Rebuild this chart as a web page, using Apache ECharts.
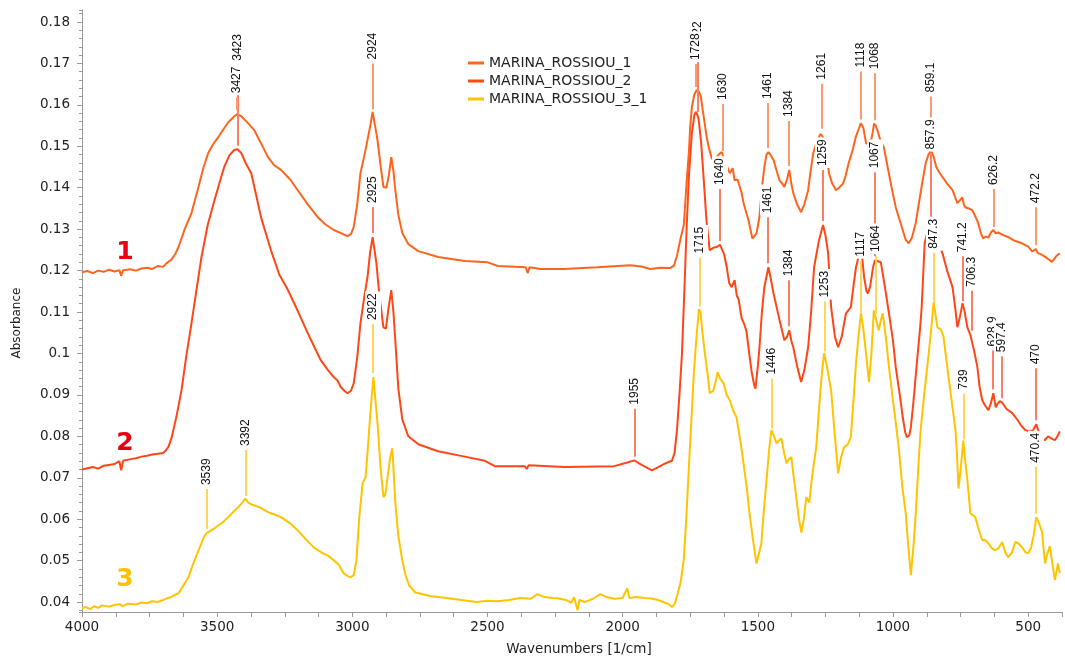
<!DOCTYPE html>
<html><head><meta charset="utf-8">
<script src="https://cdn.jsdelivr.net/npm/echarts@6/dist/echarts.min.js"></script>
<style>html,body{margin:0;padding:0;background:#fff}#c{width:1065px;height:660px}</style>
</head><body><div id="c"></div>
<script>
// ---------- data ----------
const seriesNames = ['MARINA_ROSSIOU_1', 'MARINA_ROSSIOU_2', 'MARINA_ROSSIOU_3_1'];

const wn1 = [4000,3980,3960,3940,3920,3900,3880,3862,3855,3848,3820,3800,3780,3760,3740,3720,3700,3687,3670,3655,3643,3620,3595,3570,3550,3533,3515,3496,3478,3459,3440,3426,3410,3395,3386,3363,3340,3312,3290,3264,3230,3202,3165,3128,3100,3069,3040,3018,3005,2995,2982,2970,2955,2944,2933,2925,2916,2907,2895,2885,2874,2865,2856,2848,2841,2830,2815,2793,2756,2683,2584,2499,2462,2359,2351,2345,2304,2216,2094,1972,1930,1899,1860,1825,1810,1799,1785,1774,1765,1755,1750,1744,1735,1726,1718,1711,1700,1690,1682,1670,1655,1645,1634,1620,1604,1593,1586,1575,1560,1553,1535,1520,1513,1505,1494,1485,1476,1468,1461,1452,1442,1430,1420,1410,1402,1392,1384,1376,1369,1355,1340,1328,1314,1305,1295,1280,1268,1261,1252,1245,1237,1225,1211,1200,1185,1175,1163,1150,1138,1128,1119,1110,1100,1090,1082,1075,1070,1064,1056,1045,1034,1020,1005,990,970,953,942,930,916,900,890,879,869,859,850,840,830,817,800,780,762,752,744,738,733,720,707,695,685,675,667,657,647,638,629,620,611,590,574,550,523,500,485,478,472,465,449,430,412,396,383];
const ab1 = [.1196,.1199,.1194,.1200,.1197,.1202,.1198,.1201,.1188,.1201,.1203,.1200,.1205,.1207,.1204,.1211,.1209,.1218,.1226,.1240,.1257,.1300,.1339,.1400,.1450,.1484,.1505,.1522,.1540,.1558,.1570,.1578,.1572,.1562,.1556,.1539,.1510,.1474,.1455,.1443,.1420,.1394,.1360,.1329,.1312,.1298,.1290,.1283,.1288,.1305,.1360,.1435,.1480,.1515,.1552,.1583,.1550,.1515,.1450,.1402,.1400,.1430,.1474,.1440,.1394,.1335,.1290,.1264,.1247,.1233,.1223,.1220,.1211,.1208,.1194,.1208,.1204,.1204,.1208,.1213,.1210,.1204,.1207,.1206,.1212,.1237,.1280,.1310,.1400,.1488,.1550,.1595,.1625,.1636,.1632,.1620,.1570,.1525,.1498,.1470,.1472,.1480,.1486,.1462,.1435,.1447,.1418,.1420,.1387,.1363,.1322,.1277,.1275,.1290,.1330,.1400,.1450,.1480,.1486,.1478,.1467,.1440,.1418,.1410,.1402,.1420,.1443,.1410,.1387,.1360,.1341,.1360,.1394,.1440,.1484,.1515,.1530,.1533,.1515,.1480,.1435,.1410,.1394,.1400,.1410,.1430,.1462,.1490,.1522,.1540,.1556,.1545,.1508,.1505,.1510,.1535,.1555,.1550,.1535,.1510,.1498,.1450,.1400,.1353,.1310,.1274,.1266,.1280,.1315,.1380,.1420,.1460,.1480,.1490,.1475,.1450,.1438,.1426,.1410,.1394,.1363,.1370,.1377,.1360,.1353,.1350,.1346,.1330,.1315,.1290,.1278,.1282,.1280,.1292,.1298,.1290,.1292,.1285,.1281,.1272,.1266,.1258,.1246,.1245,.1252,.1243,.1238,.1230,.1221,.1235,.1242];

const wn2 = [4000,3980,3960,3940,3920,3900,3880,3862,3855,3848,3820,3800,3780,3760,3740,3720,3700,3690,3680,3668,3650,3632,3615,3595,3575,3558,3535,3510,3490,3474,3455,3437,3425,3411,3395,3374,3355,3338,3320,3301,3270,3238,3200,3165,3140,3117,3090,3069,3055,3043,3030,3018,3005,2995,2982,2970,2955,2944,2935,2925,2918,2911,2900,2885,2876,2866,2856,2848,2841,2830,2815,2793,2756,2683,2584,2510,2473,2362,2355,2348,2216,2031,1983,1957,1940,1921,1892,1870,1848,1830,1818,1808,1799,1790,1781,1772,1763,1755,1744,1735,1729,1720,1710,1700,1690,1678,1665,1652,1640,1634,1625,1615,1606,1597,1586,1578,1571,1560,1550,1542,1530,1523,1514,1509,1500,1494,1485,1476,1461,1455,1442,1430,1420,1402,1392,1384,1376,1369,1355,1340,1328,1314,1303,1292,1275,1259,1250,1240,1229,1215,1203,1190,1174,1156,1145,1137,1125,1117,1107,1098,1093,1085,1074,1067,1060,1045,1030,1015,1000,990,975,964,955,949,940,934,925,912,900,894,883,870,860,848,830,817,800,780,770,762,752,743,735,725,714,707,698,688,680,670,660,647,638,629,620,614,605,597,580,559,540,525,511,495,482,476,470,463,452,440,426,412,401,392,383];
const ab2 = [.0720,.0723,.0726,.0722,.0729,.0731,.0733,.0740,.0718,.0741,.0745,.0747,.0751,.0753,.0756,.0758,.0760,.0766,.0775,.0798,.0850,.0911,.0990,.1073,.1160,.1233,.1310,.1370,.1415,.1450,.1478,.1491,.1493,.1484,.1460,.1435,.1380,.1329,.1290,.1249,.1190,.1153,.1100,.1049,.1015,.0984,.0960,.0943,.0935,.0919,.0910,.0904,.0910,.0928,.0990,.1073,.1140,.1184,.1240,.1281,.1250,.1218,.1140,.1063,.1060,.1110,.1153,.1100,.1030,.0916,.0840,.0800,.0781,.0764,.0751,.0741,.0728,.0728,.0721,.0730,.0726,.0728,.0737,.0742,.0735,.0728,.0718,.0725,.0733,.0738,.0741,.0760,.0817,.0900,.0996,.1150,.1310,.1430,.1532,.1575,.1583,.1570,.1510,.1418,.1320,.1249,.1255,.1257,.1262,.1261,.1240,.1208,.1170,.1160,.1177,.1140,.1130,.1085,.1070,.1053,.0990,.0956,.0925,.0915,.0970,.1015,.1100,.1160,.1208,.1190,.1145,.1110,.1081,.1032,.1040,.1056,.1030,.1015,.0970,.0931,.0960,.1015,.1100,.1208,.1270,.1310,.1285,.1242,.1112,.1040,.1015,.1040,.1097,.1112,.1170,.1208,.1240,.1250,.1184,.1150,.1145,.1160,.1208,.1225,.1222,.1220,.1160,.1097,.1030,.0967,.0900,.0846,.0810,.0798,.0802,.0822,.0880,.0976,.1060,.1112,.1266,.1300,.1310,.1290,.1260,.1242,.1200,.1160,.1110,.1063,.1090,.1121,.1100,.1063,.1045,.1049,.1000,.0967,.0920,.0887,.0875,.0863,.0880,.0904,.0870,.0878,.0885,.0882,.0866,.0856,.0840,.0825,.0815,.0812,.0815,.0822,.0829,.0815,.0800,.0790,.0800,.0794,.0791,.0800,.0812];

const wn3 = [4000,3985,3970,3955,3940,3925,3900,3880,3860,3850,3830,3800,3780,3760,3740,3720,3700,3685,3670,3655,3643,3625,3606,3590,3569,3550,3540,3525,3510,3480,3459,3440,3422,3405,3396,3385,3374,3340,3312,3290,3264,3230,3202,3170,3143,3110,3090,3069,3050,3032,3015,3006,2995,2985,2975,2962,2951,2944,2936,2928,2922,2915,2907,2895,2885,2878,2870,2860,2852,2846,2841,2830,2815,2804,2790,2767,2708,2650,2584,2540,2500,2462,2420,2380,2340,2315,2290,2260,2241,2210,2190,2180,2167,2160,2140,2110,2083,2060,2030,2000,1983,1975,1950,1920,1899,1870,1850,1830,1818,1808,1799,1785,1774,1765,1755,1745,1737,1727,1718,1712,1705,1696,1686,1678,1665,1655,1649,1640,1627,1615,1604,1590,1579,1565,1553,1540,1531,1518,1505,1495,1487,1478,1468,1458,1450,1440,1431,1422,1413,1403,1394,1385,1376,1367,1358,1348,1339,1330,1321,1310,1300,1284,1270,1262,1255,1245,1229,1215,1203,1192,1181,1168,1156,1145,1137,1128,1119,1110,1100,1089,1080,1071,1062,1053,1045,1038,1025,1015,997,979,966,953,943,934,925,916,907,898,885,872,860,850,842,836,830,824,818,813,800,787,778,769,763,758,750,740,733,725,714,705,696,685,670,660,647,635,622,610,596,585,574,560,548,537,520,510,500,490,480,470,460,449,438,430,420,410,401,390,383];
const ab3 = [.0385,.0388,.0383,.0390,.0386,.0392,.0389,.0393,.0395,.0390,.0396,.0394,.0399,.0397,.0402,.0400,.0405,.0409,.0412,.0418,.0421,.0440,.0460,.0490,.0525,.0555,.0566,.0572,.0578,.0592,.0605,.0618,.0629,.0642,.0650,.0640,.0636,.0628,.0617,.0612,.0605,.0590,.0573,.0550,.0532,.0518,.0512,.0501,.0490,.0469,.0462,.0460,.0465,.0500,.0600,.0687,.0701,.0760,.0832,.0900,.0943,.0890,.0832,.0720,.0653,.0660,.0700,.0750,.0771,.0700,.0640,.0560,.0500,.0467,.0440,.0423,.0414,.0410,.0404,.0400,.0403,.0402,.0405,.0410,.0408,.0419,.0412,.0410,.0409,.0405,.0398,.0412,.0380,.0405,.0400,.0408,.0419,.0412,.0408,.0410,.0433,.0410,.0412,.0410,.0409,.0405,.0400,.0395,.0388,.0395,.0414,.0450,.0503,.0600,.0728,.0850,.0950,.1040,.1107,.1100,.1050,.1001,.0950,.0904,.0910,.0935,.0955,.0940,.0928,.0900,.0887,.0860,.0846,.0790,.0735,.0670,.0614,.0550,.0493,.0520,.0542,.0620,.0694,.0770,.0815,.0800,.0783,.0790,.0795,.0760,.0735,.0745,.0750,.0700,.0653,.0600,.0568,.0600,.0653,.0640,.0700,.0774,.0900,.0960,.1001,.0970,.0911,.0800,.0711,.0750,.0774,.0780,.0798,.0900,.0976,.1040,.1097,.1060,.1001,.0931,.1000,.1104,.1080,.1056,.1080,.1097,.1030,.0967,.0870,.0774,.0680,.0614,.0530,.0465,.0530,.0614,.0720,.0815,.0900,.0976,.1050,.1124,.1090,.1063,.1060,.1058,.1050,.1039,.0970,.0904,.0860,.0815,.0750,.0674,.0720,.0790,.0740,.0694,.0614,.0610,.0605,.0580,.0549,.0550,.0542,.0530,.0525,.0530,.0545,.0520,.0508,.0520,.0545,.0542,.0530,.0520,.0518,.0530,.0560,.0605,.0590,.0570,.0493,.0515,.0535,.0490,.0453,.0493,.0470];

// peak annotations (text as printed in the reference)
const peaks1 = ['3427','2924','1728','1630','1461','1384','1261','1118','1068','859.1','626.2','472.2'];
const peaks2 = ['3423','2925','1722','1955','1640','1461','1384','1259','1067','857.9','741.2','706.3','628.9','597.4','470'];
const peaks3 = ['3539','3392','2922','1715','1446','1253','1117','1064','847.3','739','470.4'];

// ---------- styling / layout (not data) ----------
const colors = ['#FF641C', '#FF4616', '#FFC400'];
const leaderColors = ['#FF9A70', '#FA7F66', '#FFD65A'];
const lead1 = [13, 46, 23, 47, 45, 45, 45, 48, 47, 50, 38, 38];
const lead2 = [81, 26, 60, 48, 52, 46, 46, 51, 84, 69, 45, 40, 39, 42, 52];
const lead3 = [40, 46, 49, 49, 50, 50, 52, 58, 50, 46, 47];
const behind2 = {'1722': true, '628.9': true};

function zip(w, a) { return w.map((v, i) => [v, a[i]]); }
function interp(w, a, x) {
  for (let i = 0; i < w.length - 1; i++) {
    if (w[i] >= x && w[i + 1] <= x) {
      const t = (w[i] - x) / (w[i] - w[i + 1]);
      return a[i] + t * (a[i + 1] - a[i]);
    }
  }
  return a[a.length - 1];
}
function peakSeries(labels, leads, w, a, lineColor, behind) {
  return {
    type: 'custom', z: 5, clip: false, silent: true,
    xAxisIndex: 0, yAxisIndex: 0, encode: { x: 0, y: 1 },
    data: labels.map(l => { const x = parseFloat(l); return [x, interp(w, a, x)]; }),
    renderItem: function (params, api) {
      const i = params.dataIndex;
      const p = api.coord([api.value(0), api.value(1)]);
      const x = Math.round(p[0]);
      const yb = p[1] - 4, yt = yb - leads[i];
      const low = behind && behind[labels[i]];
      return {
        type: 'group', children: [
          { type: 'line', z2: 1, shape: { x1: x, y1: yb, x2: x, y2: yt }, style: { stroke: lineColor, lineWidth: 2 } },
          { type: 'text', z2: low ? 5 : 10, x: x, y: yt - 2, rotation: Math.PI / 2,
            style: { text: labels[i], fill: '#111', fontSize: 12, fontFamily: 'Liberation Sans, Arial, sans-serif',
              align: 'left', verticalAlign: 'middle', backgroundColor: '#fff', padding: [2, 2, 2, 2] } }
        ]
      };
    }
  };
}

const axisGray = '#9a9a9a';
const txt = '#222';
const font = 'DejaVu Sans';

const chart = echarts.init(document.getElementById('c'), null, { renderer: 'canvas' });
chart.setOption({
  animation: false,
  backgroundColor: '#fff',
  grid: { left: 82, right: 0, top: 10, bottom: 48, containLabel: false },
  legend: {
    data: seriesNames, orient: 'vertical', left: 463, top: 50,
    icon: 'rect', itemWidth: 16, itemHeight: 3, itemGap: 2,
    textStyle: { color: txt, fontSize: 14, fontFamily: font, lineHeight: 16 }
  },
  xAxis: [{
    type: 'value', inverse: true, min: 375, max: 4000, interval: 125,
    axisLine: { show: true, onZero: false, lineStyle: { color: axisGray } },
    axisTick: { show: true, length: 5, lineStyle: { color: axisGray } },
    splitLine: { show: false },
    axisLabel: { formatter: v => (v % 500 === 0 ? String(v) : ''), color: txt, fontSize: 13.5, fontFamily: font, margin: 8 }
  }],
  yAxis: [{
    type: 'value', min: 0.0376, max: 0.1829, splitNumber: 14,
    axisLine: { show: true, onZero: false, lineStyle: { color: axisGray } },
    axisTick: { show: true, length: 5, lineStyle: { color: axisGray } },
    splitLine: { show: false },
    axisLabel: { showMinLabel: false, showMaxLabel: false, color: txt, fontSize: 13.5, fontFamily: font, margin: 12 }
  }, {
    type: 'value', min: 0.0376, max: 0.1829, splitNumber: 72, position: 'left',
    axisLine: { show: true, onZero: false, lineStyle: { color: axisGray } },
    axisTick: { show: true, length: 3, lineStyle: { color: axisGray } },
    axisLabel: { show: false }, splitLine: { show: false }
  }],
  graphic: [
    { type: 'text', x: 579, y: 649, style: { text: 'Wavenumbers [1/cm]', fill: txt, font: '13.5px "DejaVu Sans"', align: 'center', verticalAlign: 'middle' } },
    { type: 'text', x: 17, y: 323, rotation: Math.PI / 2, style: { text: 'Absorbance', fill: txt, font: '12px "DejaVu Sans"', align: 'center', verticalAlign: 'middle' } },
    { type: 'text', x: 125, y: 252, style: { text: '1', fill: '#E60012', font: 'bold 25px "DejaVu Sans"', align: 'center', verticalAlign: 'middle' } },
    { type: 'text', x: 125, y: 443, style: { text: '2', fill: '#E60012', font: 'bold 25px "DejaVu Sans"', align: 'center', verticalAlign: 'middle' } },
    { type: 'text', x: 125, y: 579, style: { text: '3', fill: '#FFC000', font: 'bold 25px "DejaVu Sans"', align: 'center', verticalAlign: 'middle' } }
  ],
  series: [
    { name: seriesNames[0], type: 'line', data: zip(wn1, ab1), showSymbol: false, symbol: 'none', z: 2, lineStyle: { color: colors[0], width: 2 }, itemStyle: { color: colors[0] } },
    { name: seriesNames[1], type: 'line', data: zip(wn2, ab2), showSymbol: false, symbol: 'none', z: 2, lineStyle: { color: colors[1], width: 2 }, itemStyle: { color: colors[1] } },
    { name: seriesNames[2], type: 'line', data: zip(wn3, ab3), showSymbol: false, symbol: 'none', z: 2, lineStyle: { color: colors[2], width: 2 }, itemStyle: { color: colors[2] } },
    peakSeries(peaks2, lead2, wn2, ab2, leaderColors[1], behind2),
    peakSeries(peaks3, lead3, wn3, ab3, leaderColors[2], null),
    peakSeries(peaks1, lead1, wn1, ab1, leaderColors[0], null)
  ]
});
</script></body></html>
